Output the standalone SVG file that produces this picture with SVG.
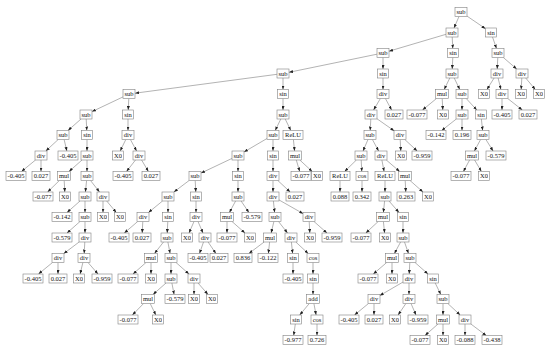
<svg xmlns="http://www.w3.org/2000/svg" width="550" height="351" viewBox="0 0 550 351">
<style>
.node rect{fill:#fff;stroke:#808080;stroke-width:0.6}
.node text{font-family:"Liberation Serif","Times New Roman",serif;font-size:6.5px;text-anchor:middle;fill:#111;opacity:0.99}
.edges line{stroke:#666;stroke-width:0.5;marker-end:url(#ah)}
</style>
<defs>
<marker id="ah" markerUnits="userSpaceOnUse" markerWidth="4" markerHeight="3" refX="4" refY="1.5" orient="auto"><path d="M0,0 L4,1.5 L0,3 z" fill="#222"/></marker>
</defs>
<rect width="550" height="351" fill="#fff"/>
<g class="edges">
<line x1="459" y1="16.5" x2="454" y2="28"/>
<line x1="467" y1="16.1" x2="485.5" y2="28.7"/>
<line x1="446" y1="34.3" x2="389" y2="51.2"/>
<line x1="452.2" y1="37" x2="452.8" y2="48.5"/>
<line x1="492.5" y1="37" x2="496.5" y2="48.5"/>
<line x1="377" y1="54.2" x2="289" y2="72.3"/>
<line x1="383" y1="57.5" x2="383" y2="69"/>
<line x1="452.8" y1="57.5" x2="452.2" y2="69"/>
<line x1="497.8" y1="57.5" x2="497.2" y2="69"/>
<line x1="503.3" y1="57.5" x2="516.7" y2="69"/>
<line x1="277" y1="74.3" x2="135" y2="93.2"/>
<line x1="283" y1="78" x2="283" y2="89.5"/>
<line x1="383" y1="78" x2="383" y2="89.5"/>
<line x1="449.8" y1="78" x2="444.2" y2="89.5"/>
<line x1="454.2" y1="78" x2="459.8" y2="89.5"/>
<line x1="494.1" y1="78" x2="486.9" y2="89.5"/>
<line x1="498.1" y1="78" x2="500.9" y2="89.5"/>
<line x1="521.8" y1="78" x2="521.2" y2="89.5"/>
<line x1="525.7" y1="78" x2="535.3" y2="89.5"/>
<line x1="123" y1="96.9" x2="92" y2="111.6"/>
<line x1="128.8" y1="98.5" x2="128.2" y2="110"/>
<line x1="283" y1="98.5" x2="283" y2="110"/>
<line x1="380.4" y1="98.5" x2="373.6" y2="110"/>
<line x1="385.4" y1="98.5" x2="391.6" y2="110"/>
<line x1="436.5" y1="98.5" x2="422.5" y2="110"/>
<line x1="442.2" y1="98.5" x2="442.8" y2="110"/>
<line x1="462" y1="98.5" x2="462" y2="110"/>
<line x1="466.2" y1="98.5" x2="476.8" y2="110"/>
<line x1="502" y1="98.5" x2="502" y2="110"/>
<line x1="507.7" y1="98.5" x2="522.3" y2="110"/>
<line x1="81" y1="119" x2="68" y2="130.5"/>
<line x1="86.2" y1="119" x2="86.8" y2="130.5"/>
<line x1="128" y1="119" x2="128" y2="130.5"/>
<line x1="280.8" y1="119" x2="275.2" y2="130.5"/>
<line x1="285.2" y1="119" x2="290.8" y2="130.5"/>
<line x1="370.8" y1="119" x2="370.2" y2="130.5"/>
<line x1="376.75" y1="118.6" x2="394.25" y2="130.9"/>
<line x1="456.3" y1="119" x2="441.7" y2="130.5"/>
<line x1="462" y1="119" x2="462" y2="130.5"/>
<line x1="481.4" y1="119" x2="482.6" y2="130.5"/>
<line x1="58.2" y1="139.5" x2="45.8" y2="151"/>
<line x1="64.1" y1="139.5" x2="66.9" y2="151"/>
<line x1="87" y1="139.5" x2="87" y2="151"/>
<line x1="125.8" y1="139.5" x2="120.2" y2="151"/>
<line x1="130.4" y1="139.5" x2="136.6" y2="151"/>
<line x1="267" y1="138.5" x2="244" y2="152"/>
<line x1="273" y1="139.5" x2="273" y2="151"/>
<line x1="293.4" y1="139.5" x2="294.6" y2="151"/>
<line x1="368" y1="139.5" x2="363" y2="151"/>
<line x1="372.4" y1="139.5" x2="378.6" y2="151"/>
<line x1="400.2" y1="139.5" x2="400.8" y2="151"/>
<line x1="404.8" y1="139.5" x2="417.2" y2="151"/>
<line x1="480.6" y1="139.5" x2="474.4" y2="151"/>
<line x1="485.9" y1="139.5" x2="493.1" y2="151"/>
<line x1="35.5" y1="160" x2="21.5" y2="171.5"/>
<line x1="41" y1="160" x2="41" y2="171.5"/>
<line x1="82" y1="160" x2="69" y2="171.5"/>
<line x1="87" y1="160" x2="87" y2="171.5"/>
<line x1="135.5" y1="160" x2="126.5" y2="171.5"/>
<line x1="141.6" y1="160" x2="148.4" y2="171.5"/>
<line x1="232" y1="158.4" x2="201" y2="173.1"/>
<line x1="238" y1="160" x2="238" y2="171.5"/>
<line x1="273" y1="160" x2="273" y2="171.5"/>
<line x1="296.3" y1="160" x2="299.7" y2="171.5"/>
<line x1="299.8" y1="160" x2="312.2" y2="171.5"/>
<line x1="356.4" y1="160" x2="344.6" y2="171.5"/>
<line x1="361.2" y1="160" x2="361.8" y2="171.5"/>
<line x1="381.9" y1="160" x2="384.1" y2="171.5"/>
<line x1="386.3" y1="160" x2="399.7" y2="171.5"/>
<line x1="469.6" y1="160" x2="463.4" y2="171.5"/>
<line x1="474.6" y1="160" x2="481.4" y2="171.5"/>
<line x1="59.4" y1="180.5" x2="47.6" y2="192"/>
<line x1="64.2" y1="180.5" x2="64.8" y2="192"/>
<line x1="86.6" y1="180.5" x2="85.4" y2="192"/>
<line x1="90.5" y1="180.5" x2="99.5" y2="192"/>
<line x1="189.1" y1="180.5" x2="173.9" y2="192"/>
<line x1="195.2" y1="180.5" x2="195.8" y2="192"/>
<line x1="238" y1="180.5" x2="238" y2="192"/>
<line x1="273" y1="180.5" x2="273" y2="192"/>
<line x1="277.8" y1="180.5" x2="290.2" y2="192"/>
<line x1="340" y1="180.5" x2="340" y2="192"/>
<line x1="362" y1="180.5" x2="362" y2="192"/>
<line x1="385" y1="180.5" x2="385" y2="192"/>
<line x1="405.2" y1="180.5" x2="405.8" y2="192"/>
<line x1="410" y1="180.5" x2="423" y2="192"/>
<line x1="80" y1="201" x2="67" y2="212.5"/>
<line x1="85" y1="201" x2="85" y2="212.5"/>
<line x1="103" y1="201" x2="103" y2="212.5"/>
<line x1="106.7" y1="201" x2="116.3" y2="212.5"/>
<line x1="162.5" y1="201" x2="148.5" y2="212.5"/>
<line x1="168" y1="201" x2="168" y2="212.5"/>
<line x1="196" y1="201" x2="196" y2="212.5"/>
<line x1="235.6" y1="201" x2="229.4" y2="212.5"/>
<line x1="241.1" y1="201" x2="248.9" y2="212.5"/>
<line x1="273.4" y1="201" x2="274.6" y2="212.5"/>
<line x1="278.75" y1="199.8" x2="303.25" y2="213.7"/>
<line x1="384.6" y1="201" x2="383.4" y2="212.5"/>
<line x1="389" y1="201" x2="399" y2="212.5"/>
<line x1="80" y1="221.5" x2="67" y2="233"/>
<line x1="85" y1="221.5" x2="85" y2="233"/>
<line x1="137.7" y1="221.5" x2="124.3" y2="233"/>
<line x1="142.8" y1="221.5" x2="142.2" y2="233"/>
<line x1="167.8" y1="221.5" x2="167.2" y2="233"/>
<line x1="194" y1="221.5" x2="189" y2="233"/>
<line x1="198" y1="221.5" x2="203" y2="233"/>
<line x1="227" y1="221.5" x2="227" y2="233"/>
<line x1="232" y1="221.5" x2="245" y2="233"/>
<line x1="273.9" y1="221.5" x2="271.1" y2="233"/>
<line x1="278.5" y1="221.5" x2="287.5" y2="233"/>
<line x1="309.2" y1="221.5" x2="309.8" y2="233"/>
<line x1="314" y1="221.5" x2="327" y2="233"/>
<line x1="378.2" y1="221.5" x2="365.8" y2="233"/>
<line x1="383.4" y1="221.5" x2="384.6" y2="233"/>
<line x1="403" y1="221.5" x2="403" y2="233"/>
<line x1="79.25" y1="241.9" x2="63.75" y2="253.6"/>
<line x1="84.8" y1="242" x2="84.2" y2="253.5"/>
<line x1="163.5" y1="242" x2="154.5" y2="253.5"/>
<line x1="167.9" y1="242" x2="170.1" y2="253.5"/>
<line x1="203.5" y1="242" x2="199.5" y2="253.5"/>
<line x1="208.1" y1="242" x2="215.9" y2="253.5"/>
<line x1="264.1" y1="242" x2="248.9" y2="253.5"/>
<line x1="269.6" y1="242" x2="268.4" y2="253.5"/>
<line x1="291.4" y1="242" x2="292.6" y2="253.5"/>
<line x1="295.8" y1="242" x2="308.2" y2="253.5"/>
<line x1="400.6" y1="242" x2="394.4" y2="253.5"/>
<line x1="404.5" y1="242" x2="408.5" y2="253.5"/>
<line x1="52.5" y1="262.5" x2="38.5" y2="274"/>
<line x1="58" y1="262.5" x2="58" y2="274"/>
<line x1="82.9" y1="262.5" x2="80.1" y2="274"/>
<line x1="88" y1="262.5" x2="98" y2="274"/>
<line x1="146" y1="262.5" x2="133" y2="274"/>
<line x1="151" y1="262.5" x2="151" y2="274"/>
<line x1="171" y1="262.5" x2="171" y2="274"/>
<line x1="176" y1="262.5" x2="189" y2="274"/>
<line x1="293" y1="262.5" x2="293" y2="274"/>
<line x1="313" y1="262.5" x2="313" y2="274"/>
<line x1="386.7" y1="262.5" x2="373.3" y2="274"/>
<line x1="392" y1="262.5" x2="392" y2="274"/>
<line x1="409.8" y1="262.5" x2="409.2" y2="274"/>
<line x1="415" y1="262.5" x2="428" y2="274"/>
<line x1="166" y1="283" x2="153" y2="294.5"/>
<line x1="171.9" y1="283" x2="174.1" y2="294.5"/>
<line x1="194" y1="283" x2="194" y2="294.5"/>
<line x1="198" y1="283" x2="208" y2="294.5"/>
<line x1="313" y1="283" x2="313" y2="294.5"/>
<line x1="403.25" y1="281.9" x2="379.75" y2="295.6"/>
<line x1="409" y1="283" x2="409" y2="294.5"/>
<line x1="435.2" y1="283" x2="440.8" y2="294.5"/>
<line x1="143.6" y1="303.5" x2="132.4" y2="315"/>
<line x1="150.2" y1="303.5" x2="155.8" y2="315"/>
<line x1="309.3" y1="303.5" x2="299.7" y2="315"/>
<line x1="313.9" y1="303.5" x2="316.1" y2="315"/>
<line x1="368.5" y1="303.5" x2="354.5" y2="315"/>
<line x1="374" y1="303.5" x2="374" y2="315"/>
<line x1="405.9" y1="303.5" x2="398.1" y2="315"/>
<line x1="411" y1="303.5" x2="416" y2="315"/>
<line x1="443" y1="303.5" x2="443" y2="315"/>
<line x1="447.8" y1="303.5" x2="460.2" y2="315"/>
<line x1="295.3" y1="324" x2="293.7" y2="335.5"/>
<line x1="317" y1="324" x2="317" y2="335.5"/>
<line x1="438" y1="324" x2="425" y2="335.5"/>
<line x1="443" y1="324" x2="443" y2="335.5"/>
<line x1="465" y1="324" x2="465" y2="335.5"/>
<line x1="470.75" y1="323.9" x2="486.25" y2="335.6"/>
</g>
<g id="n0" class="node" transform="translate(461,12)"><rect x="-6" y="-4.5" width="12" height="9"/><text y="2.2">sub</text></g>
<g id="n1" class="node" transform="translate(452,32.5)"><rect x="-6" y="-4.5" width="12" height="9"/><text y="2.2">sub</text></g>
<g id="n2" class="node" transform="translate(383,53)"><rect x="-6" y="-4.5" width="12" height="9"/><text y="2.2">sub</text></g>
<g id="n3" class="node" transform="translate(283,73.5)"><rect x="-6" y="-4.5" width="12" height="9"/><text y="2.2">sub</text></g>
<g id="n4" class="node" transform="translate(129,94)"><rect x="-6" y="-4.5" width="12" height="9"/><text y="2.2">sub</text></g>
<g id="n5" class="node" transform="translate(86,114.5)"><rect x="-6" y="-4.5" width="12" height="9"/><text y="2.2">sub</text></g>
<g id="n6" class="node" transform="translate(63,135)"><rect x="-6" y="-4.5" width="12" height="9"/><text y="2.2">sub</text></g>
<g id="n7" class="node" transform="translate(41,155.5)"><rect x="-6" y="-4.5" width="12" height="9"/><text y="2.2">div</text></g>
<g id="n8" class="node" transform="translate(16,176)"><rect x="-10" y="-4.5" width="20" height="9"/><text y="2.2">-0.405</text></g>
<g id="n9" class="node" transform="translate(41,176)"><rect x="-9" y="-4.5" width="18" height="9"/><text y="2.2">0.027</text></g>
<g id="n10" class="node" transform="translate(68,155.5)"><rect x="-10" y="-4.5" width="20" height="9"/><text y="2.2">-0.405</text></g>
<g id="n11" class="node" transform="translate(87,135)"><rect x="-5.5" y="-4.5" width="11" height="9"/><text y="2.2">sin</text></g>
<g id="n12" class="node" transform="translate(87,155.5)"><rect x="-6" y="-4.5" width="12" height="9"/><text y="2.2">sub</text></g>
<g id="n13" class="node" transform="translate(64,176)"><rect x="-6.5" y="-4.5" width="13" height="9"/><text y="2.2">mul</text></g>
<g id="n14" class="node" transform="translate(43,196.5)"><rect x="-10" y="-4.5" width="20" height="9"/><text y="2.2">-0.077</text></g>
<g id="n15" class="node" transform="translate(65,196.5)"><rect x="-5.5" y="-4.5" width="11" height="9"/><text y="2.2">X0</text></g>
<g id="n16" class="node" transform="translate(87,176)"><rect x="-6" y="-4.5" width="12" height="9"/><text y="2.2">sub</text></g>
<g id="n17" class="node" transform="translate(85,196.5)"><rect x="-6" y="-4.5" width="12" height="9"/><text y="2.2">sub</text></g>
<g id="n18" class="node" transform="translate(62,217)"><rect x="-10" y="-4.5" width="20" height="9"/><text y="2.2">-0.142</text></g>
<g id="n19" class="node" transform="translate(85,217)"><rect x="-6" y="-4.5" width="12" height="9"/><text y="2.2">sub</text></g>
<g id="n20" class="node" transform="translate(62,237.5)"><rect x="-10" y="-4.5" width="20" height="9"/><text y="2.2">-0.579</text></g>
<g id="n21" class="node" transform="translate(85,237.5)"><rect x="-6" y="-4.5" width="12" height="9"/><text y="2.2">div</text></g>
<g id="n22" class="node" transform="translate(58,258)"><rect x="-6" y="-4.5" width="12" height="9"/><text y="2.2">div</text></g>
<g id="n23" class="node" transform="translate(33,278.5)"><rect x="-10" y="-4.5" width="20" height="9"/><text y="2.2">-0.405</text></g>
<g id="n24" class="node" transform="translate(58,278.5)"><rect x="-9" y="-4.5" width="18" height="9"/><text y="2.2">0.027</text></g>
<g id="n25" class="node" transform="translate(84,258)"><rect x="-6" y="-4.5" width="12" height="9"/><text y="2.2">div</text></g>
<g id="n26" class="node" transform="translate(79,278.5)"><rect x="-5.5" y="-4.5" width="11" height="9"/><text y="2.2">X0</text></g>
<g id="n27" class="node" transform="translate(102,278.5)"><rect x="-10" y="-4.5" width="20" height="9"/><text y="2.2">-0.959</text></g>
<g id="n28" class="node" transform="translate(103,196.5)"><rect x="-6" y="-4.5" width="12" height="9"/><text y="2.2">div</text></g>
<g id="n29" class="node" transform="translate(103,217)"><rect x="-5.5" y="-4.5" width="11" height="9"/><text y="2.2">X0</text></g>
<g id="n30" class="node" transform="translate(120,217)"><rect x="-5.5" y="-4.5" width="11" height="9"/><text y="2.2">X0</text></g>
<g id="n31" class="node" transform="translate(128,114.5)"><rect x="-5.5" y="-4.5" width="11" height="9"/><text y="2.2">sin</text></g>
<g id="n32" class="node" transform="translate(128,135)"><rect x="-6" y="-4.5" width="12" height="9"/><text y="2.2">div</text></g>
<g id="n33" class="node" transform="translate(118,155.5)"><rect x="-5.5" y="-4.5" width="11" height="9"/><text y="2.2">X0</text></g>
<g id="n34" class="node" transform="translate(139,155.5)"><rect x="-6" y="-4.5" width="12" height="9"/><text y="2.2">div</text></g>
<g id="n35" class="node" transform="translate(123,176)"><rect x="-10" y="-4.5" width="20" height="9"/><text y="2.2">-0.405</text></g>
<g id="n36" class="node" transform="translate(151,176)"><rect x="-9" y="-4.5" width="18" height="9"/><text y="2.2">0.027</text></g>
<g id="n37" class="node" transform="translate(283,94)"><rect x="-5.5" y="-4.5" width="11" height="9"/><text y="2.2">sin</text></g>
<g id="n38" class="node" transform="translate(283,114.5)"><rect x="-6" y="-4.5" width="12" height="9"/><text y="2.2">sub</text></g>
<g id="n39" class="node" transform="translate(273,135)"><rect x="-6" y="-4.5" width="12" height="9"/><text y="2.2">sub</text></g>
<g id="n40" class="node" transform="translate(238,155.5)"><rect x="-6" y="-4.5" width="12" height="9"/><text y="2.2">sub</text></g>
<g id="n41" class="node" transform="translate(195,176)"><rect x="-6" y="-4.5" width="12" height="9"/><text y="2.2">sub</text></g>
<g id="n42" class="node" transform="translate(168,196.5)"><rect x="-6" y="-4.5" width="12" height="9"/><text y="2.2">sub</text></g>
<g id="n43" class="node" transform="translate(143,217)"><rect x="-6" y="-4.5" width="12" height="9"/><text y="2.2">div</text></g>
<g id="n44" class="node" transform="translate(119,237.5)"><rect x="-10" y="-4.5" width="20" height="9"/><text y="2.2">-0.405</text></g>
<g id="n45" class="node" transform="translate(142,237.5)"><rect x="-9" y="-4.5" width="18" height="9"/><text y="2.2">0.027</text></g>
<g id="n46" class="node" transform="translate(168,217)"><rect x="-5.5" y="-4.5" width="11" height="9"/><text y="2.2">sin</text></g>
<g id="n47" class="node" transform="translate(167,237.5)"><rect x="-6" y="-4.5" width="12" height="9"/><text y="2.2">sub</text></g>
<g id="n48" class="node" transform="translate(151,258)"><rect x="-6.5" y="-4.5" width="13" height="9"/><text y="2.2">mul</text></g>
<g id="n49" class="node" transform="translate(128,278.5)"><rect x="-10" y="-4.5" width="20" height="9"/><text y="2.2">-0.077</text></g>
<g id="n50" class="node" transform="translate(151,278.5)"><rect x="-5.5" y="-4.5" width="11" height="9"/><text y="2.2">X0</text></g>
<g id="n51" class="node" transform="translate(171,258)"><rect x="-6" y="-4.5" width="12" height="9"/><text y="2.2">sub</text></g>
<g id="n52" class="node" transform="translate(171,278.5)"><rect x="-6" y="-4.5" width="12" height="9"/><text y="2.2">sub</text></g>
<g id="n53" class="node" transform="translate(148,299)"><rect x="-6.5" y="-4.5" width="13" height="9"/><text y="2.2">mul</text></g>
<g id="n54" class="node" transform="translate(128,319.5)"><rect x="-10" y="-4.5" width="20" height="9"/><text y="2.2">-0.077</text></g>
<g id="n55" class="node" transform="translate(158,319.5)"><rect x="-5.5" y="-4.5" width="11" height="9"/><text y="2.2">X0</text></g>
<g id="n56" class="node" transform="translate(175,299)"><rect x="-10" y="-4.5" width="20" height="9"/><text y="2.2">-0.579</text></g>
<g id="n57" class="node" transform="translate(194,278.5)"><rect x="-6" y="-4.5" width="12" height="9"/><text y="2.2">div</text></g>
<g id="n58" class="node" transform="translate(194,299)"><rect x="-5.5" y="-4.5" width="11" height="9"/><text y="2.2">X0</text></g>
<g id="n59" class="node" transform="translate(212,299)"><rect x="-5.5" y="-4.5" width="11" height="9"/><text y="2.2">X0</text></g>
<g id="n60" class="node" transform="translate(196,196.5)"><rect x="-5.5" y="-4.5" width="11" height="9"/><text y="2.2">sin</text></g>
<g id="n61" class="node" transform="translate(196,217)"><rect x="-6" y="-4.5" width="12" height="9"/><text y="2.2">div</text></g>
<g id="n62" class="node" transform="translate(187,237.5)"><rect x="-5.5" y="-4.5" width="11" height="9"/><text y="2.2">X0</text></g>
<g id="n63" class="node" transform="translate(205,237.5)"><rect x="-6" y="-4.5" width="12" height="9"/><text y="2.2">div</text></g>
<g id="n64" class="node" transform="translate(198,258)"><rect x="-10" y="-4.5" width="20" height="9"/><text y="2.2">-0.405</text></g>
<g id="n65" class="node" transform="translate(219,258)"><rect x="-9" y="-4.5" width="18" height="9"/><text y="2.2">0.027</text></g>
<g id="n66" class="node" transform="translate(238,176)"><rect x="-5.5" y="-4.5" width="11" height="9"/><text y="2.2">sin</text></g>
<g id="n67" class="node" transform="translate(238,196.5)"><rect x="-6" y="-4.5" width="12" height="9"/><text y="2.2">sub</text></g>
<g id="n68" class="node" transform="translate(227,217)"><rect x="-6.5" y="-4.5" width="13" height="9"/><text y="2.2">mul</text></g>
<g id="n69" class="node" transform="translate(227,237.5)"><rect x="-10" y="-4.5" width="20" height="9"/><text y="2.2">-0.077</text></g>
<g id="n70" class="node" transform="translate(250,237.5)"><rect x="-5.5" y="-4.5" width="11" height="9"/><text y="2.2">X0</text></g>
<g id="n71" class="node" transform="translate(252,217)"><rect x="-10" y="-4.5" width="20" height="9"/><text y="2.2">-0.579</text></g>
<g id="n72" class="node" transform="translate(273,155.5)"><rect x="-5.5" y="-4.5" width="11" height="9"/><text y="2.2">sin</text></g>
<g id="n73" class="node" transform="translate(273,176)"><rect x="-6" y="-4.5" width="12" height="9"/><text y="2.2">div</text></g>
<g id="n74" class="node" transform="translate(273,196.5)"><rect x="-6" y="-4.5" width="12" height="9"/><text y="2.2">div</text></g>
<g id="n75" class="node" transform="translate(275,217)"><rect x="-6" y="-4.5" width="12" height="9"/><text y="2.2">sub</text></g>
<g id="n76" class="node" transform="translate(270,237.5)"><rect x="-6.5" y="-4.5" width="13" height="9"/><text y="2.2">mul</text></g>
<g id="n77" class="node" transform="translate(243,258)"><rect x="-9" y="-4.5" width="18" height="9"/><text y="2.2">0.836</text></g>
<g id="n78" class="node" transform="translate(268,258)"><rect x="-10" y="-4.5" width="20" height="9"/><text y="2.2">-0.122</text></g>
<g id="n79" class="node" transform="translate(291,237.5)"><rect x="-6" y="-4.5" width="12" height="9"/><text y="2.2">div</text></g>
<g id="n80" class="node" transform="translate(293,258)"><rect x="-5.5" y="-4.5" width="11" height="9"/><text y="2.2">sin</text></g>
<g id="n81" class="node" transform="translate(293,278.5)"><rect x="-10" y="-4.5" width="20" height="9"/><text y="2.2">-0.405</text></g>
<g id="n82" class="node" transform="translate(313,258)"><rect x="-6" y="-4.5" width="12" height="9"/><text y="2.2">cos</text></g>
<g id="n83" class="node" transform="translate(313,278.5)"><rect x="-5.5" y="-4.5" width="11" height="9"/><text y="2.2">sin</text></g>
<g id="n84" class="node" transform="translate(313,299)"><rect x="-6.5" y="-4.5" width="13" height="9"/><text y="2.2">add</text></g>
<g id="n85" class="node" transform="translate(296,319.5)"><rect x="-5.5" y="-4.5" width="11" height="9"/><text y="2.2">sin</text></g>
<g id="n86" class="node" transform="translate(293,340)"><rect x="-10" y="-4.5" width="20" height="9"/><text y="2.2">-0.977</text></g>
<g id="n87" class="node" transform="translate(317,319.5)"><rect x="-6" y="-4.5" width="12" height="9"/><text y="2.2">cos</text></g>
<g id="n88" class="node" transform="translate(317,340)"><rect x="-9" y="-4.5" width="18" height="9"/><text y="2.2">0.726</text></g>
<g id="n89" class="node" transform="translate(309,217)"><rect x="-6" y="-4.5" width="12" height="9"/><text y="2.2">div</text></g>
<g id="n90" class="node" transform="translate(310,237.5)"><rect x="-5.5" y="-4.5" width="11" height="9"/><text y="2.2">X0</text></g>
<g id="n91" class="node" transform="translate(332,237.5)"><rect x="-10" y="-4.5" width="20" height="9"/><text y="2.2">-0.959</text></g>
<g id="n92" class="node" transform="translate(295,196.5)"><rect x="-9" y="-4.5" width="18" height="9"/><text y="2.2">0.027</text></g>
<g id="n93" class="node" transform="translate(293,135)"><rect x="-10" y="-4.5" width="20" height="9"/><text y="2.2">ReLU</text></g>
<g id="n94" class="node" transform="translate(295,155.5)"><rect x="-6.5" y="-4.5" width="13" height="9"/><text y="2.2">mul</text></g>
<g id="n95" class="node" transform="translate(301,176)"><rect x="-10" y="-4.5" width="20" height="9"/><text y="2.2">-0.077</text></g>
<g id="n96" class="node" transform="translate(317,176)"><rect x="-5.5" y="-4.5" width="11" height="9"/><text y="2.2">X0</text></g>
<g id="n97" class="node" transform="translate(383,73.5)"><rect x="-5.5" y="-4.5" width="11" height="9"/><text y="2.2">sin</text></g>
<g id="n98" class="node" transform="translate(383,94)"><rect x="-6" y="-4.5" width="12" height="9"/><text y="2.2">div</text></g>
<g id="n99" class="node" transform="translate(371,114.5)"><rect x="-6" y="-4.5" width="12" height="9"/><text y="2.2">div</text></g>
<g id="n100" class="node" transform="translate(370,135)"><rect x="-6" y="-4.5" width="12" height="9"/><text y="2.2">sub</text></g>
<g id="n101" class="node" transform="translate(361,155.5)"><rect x="-6" y="-4.5" width="12" height="9"/><text y="2.2">sub</text></g>
<g id="n102" class="node" transform="translate(340,176)"><rect x="-10" y="-4.5" width="20" height="9"/><text y="2.2">ReLU</text></g>
<g id="n103" class="node" transform="translate(340,196.5)"><rect x="-9" y="-4.5" width="18" height="9"/><text y="2.2">0.088</text></g>
<g id="n104" class="node" transform="translate(362,176)"><rect x="-6" y="-4.5" width="12" height="9"/><text y="2.2">cos</text></g>
<g id="n105" class="node" transform="translate(362,196.5)"><rect x="-9" y="-4.5" width="18" height="9"/><text y="2.2">0.342</text></g>
<g id="n106" class="node" transform="translate(381,155.5)"><rect x="-6" y="-4.5" width="12" height="9"/><text y="2.2">div</text></g>
<g id="n107" class="node" transform="translate(385,176)"><rect x="-10" y="-4.5" width="20" height="9"/><text y="2.2">ReLU</text></g>
<g id="n108" class="node" transform="translate(385,196.5)"><rect x="-6" y="-4.5" width="12" height="9"/><text y="2.2">sub</text></g>
<g id="n109" class="node" transform="translate(383,217)"><rect x="-6.5" y="-4.5" width="13" height="9"/><text y="2.2">mul</text></g>
<g id="n110" class="node" transform="translate(361,237.5)"><rect x="-10" y="-4.5" width="20" height="9"/><text y="2.2">-0.077</text></g>
<g id="n111" class="node" transform="translate(385,237.5)"><rect x="-5.5" y="-4.5" width="11" height="9"/><text y="2.2">X0</text></g>
<g id="n112" class="node" transform="translate(403,217)"><rect x="-5.5" y="-4.5" width="11" height="9"/><text y="2.2">sin</text></g>
<g id="n113" class="node" transform="translate(403,237.5)"><rect x="-6" y="-4.5" width="12" height="9"/><text y="2.2">sub</text></g>
<g id="n114" class="node" transform="translate(392,258)"><rect x="-6.5" y="-4.5" width="13" height="9"/><text y="2.2">mul</text></g>
<g id="n115" class="node" transform="translate(368,278.5)"><rect x="-10" y="-4.5" width="20" height="9"/><text y="2.2">-0.077</text></g>
<g id="n116" class="node" transform="translate(392,278.5)"><rect x="-5.5" y="-4.5" width="11" height="9"/><text y="2.2">X0</text></g>
<g id="n117" class="node" transform="translate(410,258)"><rect x="-6" y="-4.5" width="12" height="9"/><text y="2.2">sub</text></g>
<g id="n118" class="node" transform="translate(409,278.5)"><rect x="-6" y="-4.5" width="12" height="9"/><text y="2.2">div</text></g>
<g id="n119" class="node" transform="translate(374,299)"><rect x="-6" y="-4.5" width="12" height="9"/><text y="2.2">div</text></g>
<g id="n120" class="node" transform="translate(349,319.5)"><rect x="-10" y="-4.5" width="20" height="9"/><text y="2.2">-0.405</text></g>
<g id="n121" class="node" transform="translate(374,319.5)"><rect x="-9" y="-4.5" width="18" height="9"/><text y="2.2">0.027</text></g>
<g id="n122" class="node" transform="translate(409,299)"><rect x="-6" y="-4.5" width="12" height="9"/><text y="2.2">div</text></g>
<g id="n123" class="node" transform="translate(395,319.5)"><rect x="-5.5" y="-4.5" width="11" height="9"/><text y="2.2">X0</text></g>
<g id="n124" class="node" transform="translate(418,319.5)"><rect x="-10" y="-4.5" width="20" height="9"/><text y="2.2">-0.959</text></g>
<g id="n125" class="node" transform="translate(433,278.5)"><rect x="-5.5" y="-4.5" width="11" height="9"/><text y="2.2">sin</text></g>
<g id="n126" class="node" transform="translate(443,299)"><rect x="-6" y="-4.5" width="12" height="9"/><text y="2.2">sub</text></g>
<g id="n127" class="node" transform="translate(443,319.5)"><rect x="-6.5" y="-4.5" width="13" height="9"/><text y="2.2">mul</text></g>
<g id="n128" class="node" transform="translate(420,340)"><rect x="-10" y="-4.5" width="20" height="9"/><text y="2.2">-0.077</text></g>
<g id="n129" class="node" transform="translate(443,340)"><rect x="-5.5" y="-4.5" width="11" height="9"/><text y="2.2">X0</text></g>
<g id="n130" class="node" transform="translate(465,319.5)"><rect x="-6" y="-4.5" width="12" height="9"/><text y="2.2">div</text></g>
<g id="n131" class="node" transform="translate(465,340)"><rect x="-10" y="-4.5" width="20" height="9"/><text y="2.2">-0.088</text></g>
<g id="n132" class="node" transform="translate(492,340)"><rect x="-10" y="-4.5" width="20" height="9"/><text y="2.2">-0.438</text></g>
<g id="n133" class="node" transform="translate(405,176)"><rect x="-6.5" y="-4.5" width="13" height="9"/><text y="2.2">mul</text></g>
<g id="n134" class="node" transform="translate(406,196.5)"><rect x="-9" y="-4.5" width="18" height="9"/><text y="2.2">0.263</text></g>
<g id="n135" class="node" transform="translate(428,196.5)"><rect x="-5.5" y="-4.5" width="11" height="9"/><text y="2.2">X0</text></g>
<g id="n136" class="node" transform="translate(400,135)"><rect x="-6" y="-4.5" width="12" height="9"/><text y="2.2">div</text></g>
<g id="n137" class="node" transform="translate(401,155.5)"><rect x="-5.5" y="-4.5" width="11" height="9"/><text y="2.2">X0</text></g>
<g id="n138" class="node" transform="translate(422,155.5)"><rect x="-10" y="-4.5" width="20" height="9"/><text y="2.2">-0.959</text></g>
<g id="n139" class="node" transform="translate(394,114.5)"><rect x="-9" y="-4.5" width="18" height="9"/><text y="2.2">0.027</text></g>
<g id="n140" class="node" transform="translate(453,53)"><rect x="-5.5" y="-4.5" width="11" height="9"/><text y="2.2">sin</text></g>
<g id="n141" class="node" transform="translate(452,73.5)"><rect x="-6" y="-4.5" width="12" height="9"/><text y="2.2">sub</text></g>
<g id="n142" class="node" transform="translate(442,94)"><rect x="-6.5" y="-4.5" width="13" height="9"/><text y="2.2">mul</text></g>
<g id="n143" class="node" transform="translate(417,114.5)"><rect x="-10" y="-4.5" width="20" height="9"/><text y="2.2">-0.077</text></g>
<g id="n144" class="node" transform="translate(443,114.5)"><rect x="-5.5" y="-4.5" width="11" height="9"/><text y="2.2">X0</text></g>
<g id="n145" class="node" transform="translate(462,94)"><rect x="-6" y="-4.5" width="12" height="9"/><text y="2.2">sub</text></g>
<g id="n146" class="node" transform="translate(462,114.5)"><rect x="-6" y="-4.5" width="12" height="9"/><text y="2.2">sub</text></g>
<g id="n147" class="node" transform="translate(436,135)"><rect x="-10" y="-4.5" width="20" height="9"/><text y="2.2">-0.142</text></g>
<g id="n148" class="node" transform="translate(462,135)"><rect x="-9" y="-4.5" width="18" height="9"/><text y="2.2">0.196</text></g>
<g id="n149" class="node" transform="translate(481,114.5)"><rect x="-5.5" y="-4.5" width="11" height="9"/><text y="2.2">sin</text></g>
<g id="n150" class="node" transform="translate(483,135)"><rect x="-6" y="-4.5" width="12" height="9"/><text y="2.2">sub</text></g>
<g id="n151" class="node" transform="translate(472,155.5)"><rect x="-6.5" y="-4.5" width="13" height="9"/><text y="2.2">mul</text></g>
<g id="n152" class="node" transform="translate(461,176)"><rect x="-10" y="-4.5" width="20" height="9"/><text y="2.2">-0.077</text></g>
<g id="n153" class="node" transform="translate(484,176)"><rect x="-5.5" y="-4.5" width="11" height="9"/><text y="2.2">X0</text></g>
<g id="n154" class="node" transform="translate(496,155.5)"><rect x="-10" y="-4.5" width="20" height="9"/><text y="2.2">-0.579</text></g>
<g id="n155" class="node" transform="translate(491,32.5)"><rect x="-5.5" y="-4.5" width="11" height="9"/><text y="2.2">sin</text></g>
<g id="n156" class="node" transform="translate(498,53)"><rect x="-6" y="-4.5" width="12" height="9"/><text y="2.2">sub</text></g>
<g id="n157" class="node" transform="translate(497,73.5)"><rect x="-6" y="-4.5" width="12" height="9"/><text y="2.2">div</text></g>
<g id="n158" class="node" transform="translate(484,94)"><rect x="-5.5" y="-4.5" width="11" height="9"/><text y="2.2">X0</text></g>
<g id="n159" class="node" transform="translate(502,94)"><rect x="-6" y="-4.5" width="12" height="9"/><text y="2.2">div</text></g>
<g id="n160" class="node" transform="translate(502,114.5)"><rect x="-10" y="-4.5" width="20" height="9"/><text y="2.2">-0.405</text></g>
<g id="n161" class="node" transform="translate(528,114.5)"><rect x="-9" y="-4.5" width="18" height="9"/><text y="2.2">0.027</text></g>
<g id="n162" class="node" transform="translate(522,73.5)"><rect x="-6" y="-4.5" width="12" height="9"/><text y="2.2">div</text></g>
<g id="n163" class="node" transform="translate(521,94)"><rect x="-5.5" y="-4.5" width="11" height="9"/><text y="2.2">X0</text></g>
<g id="n164" class="node" transform="translate(539,94)"><rect x="-5.5" y="-4.5" width="11" height="9"/><text y="2.2">X0</text></g>
</svg>
